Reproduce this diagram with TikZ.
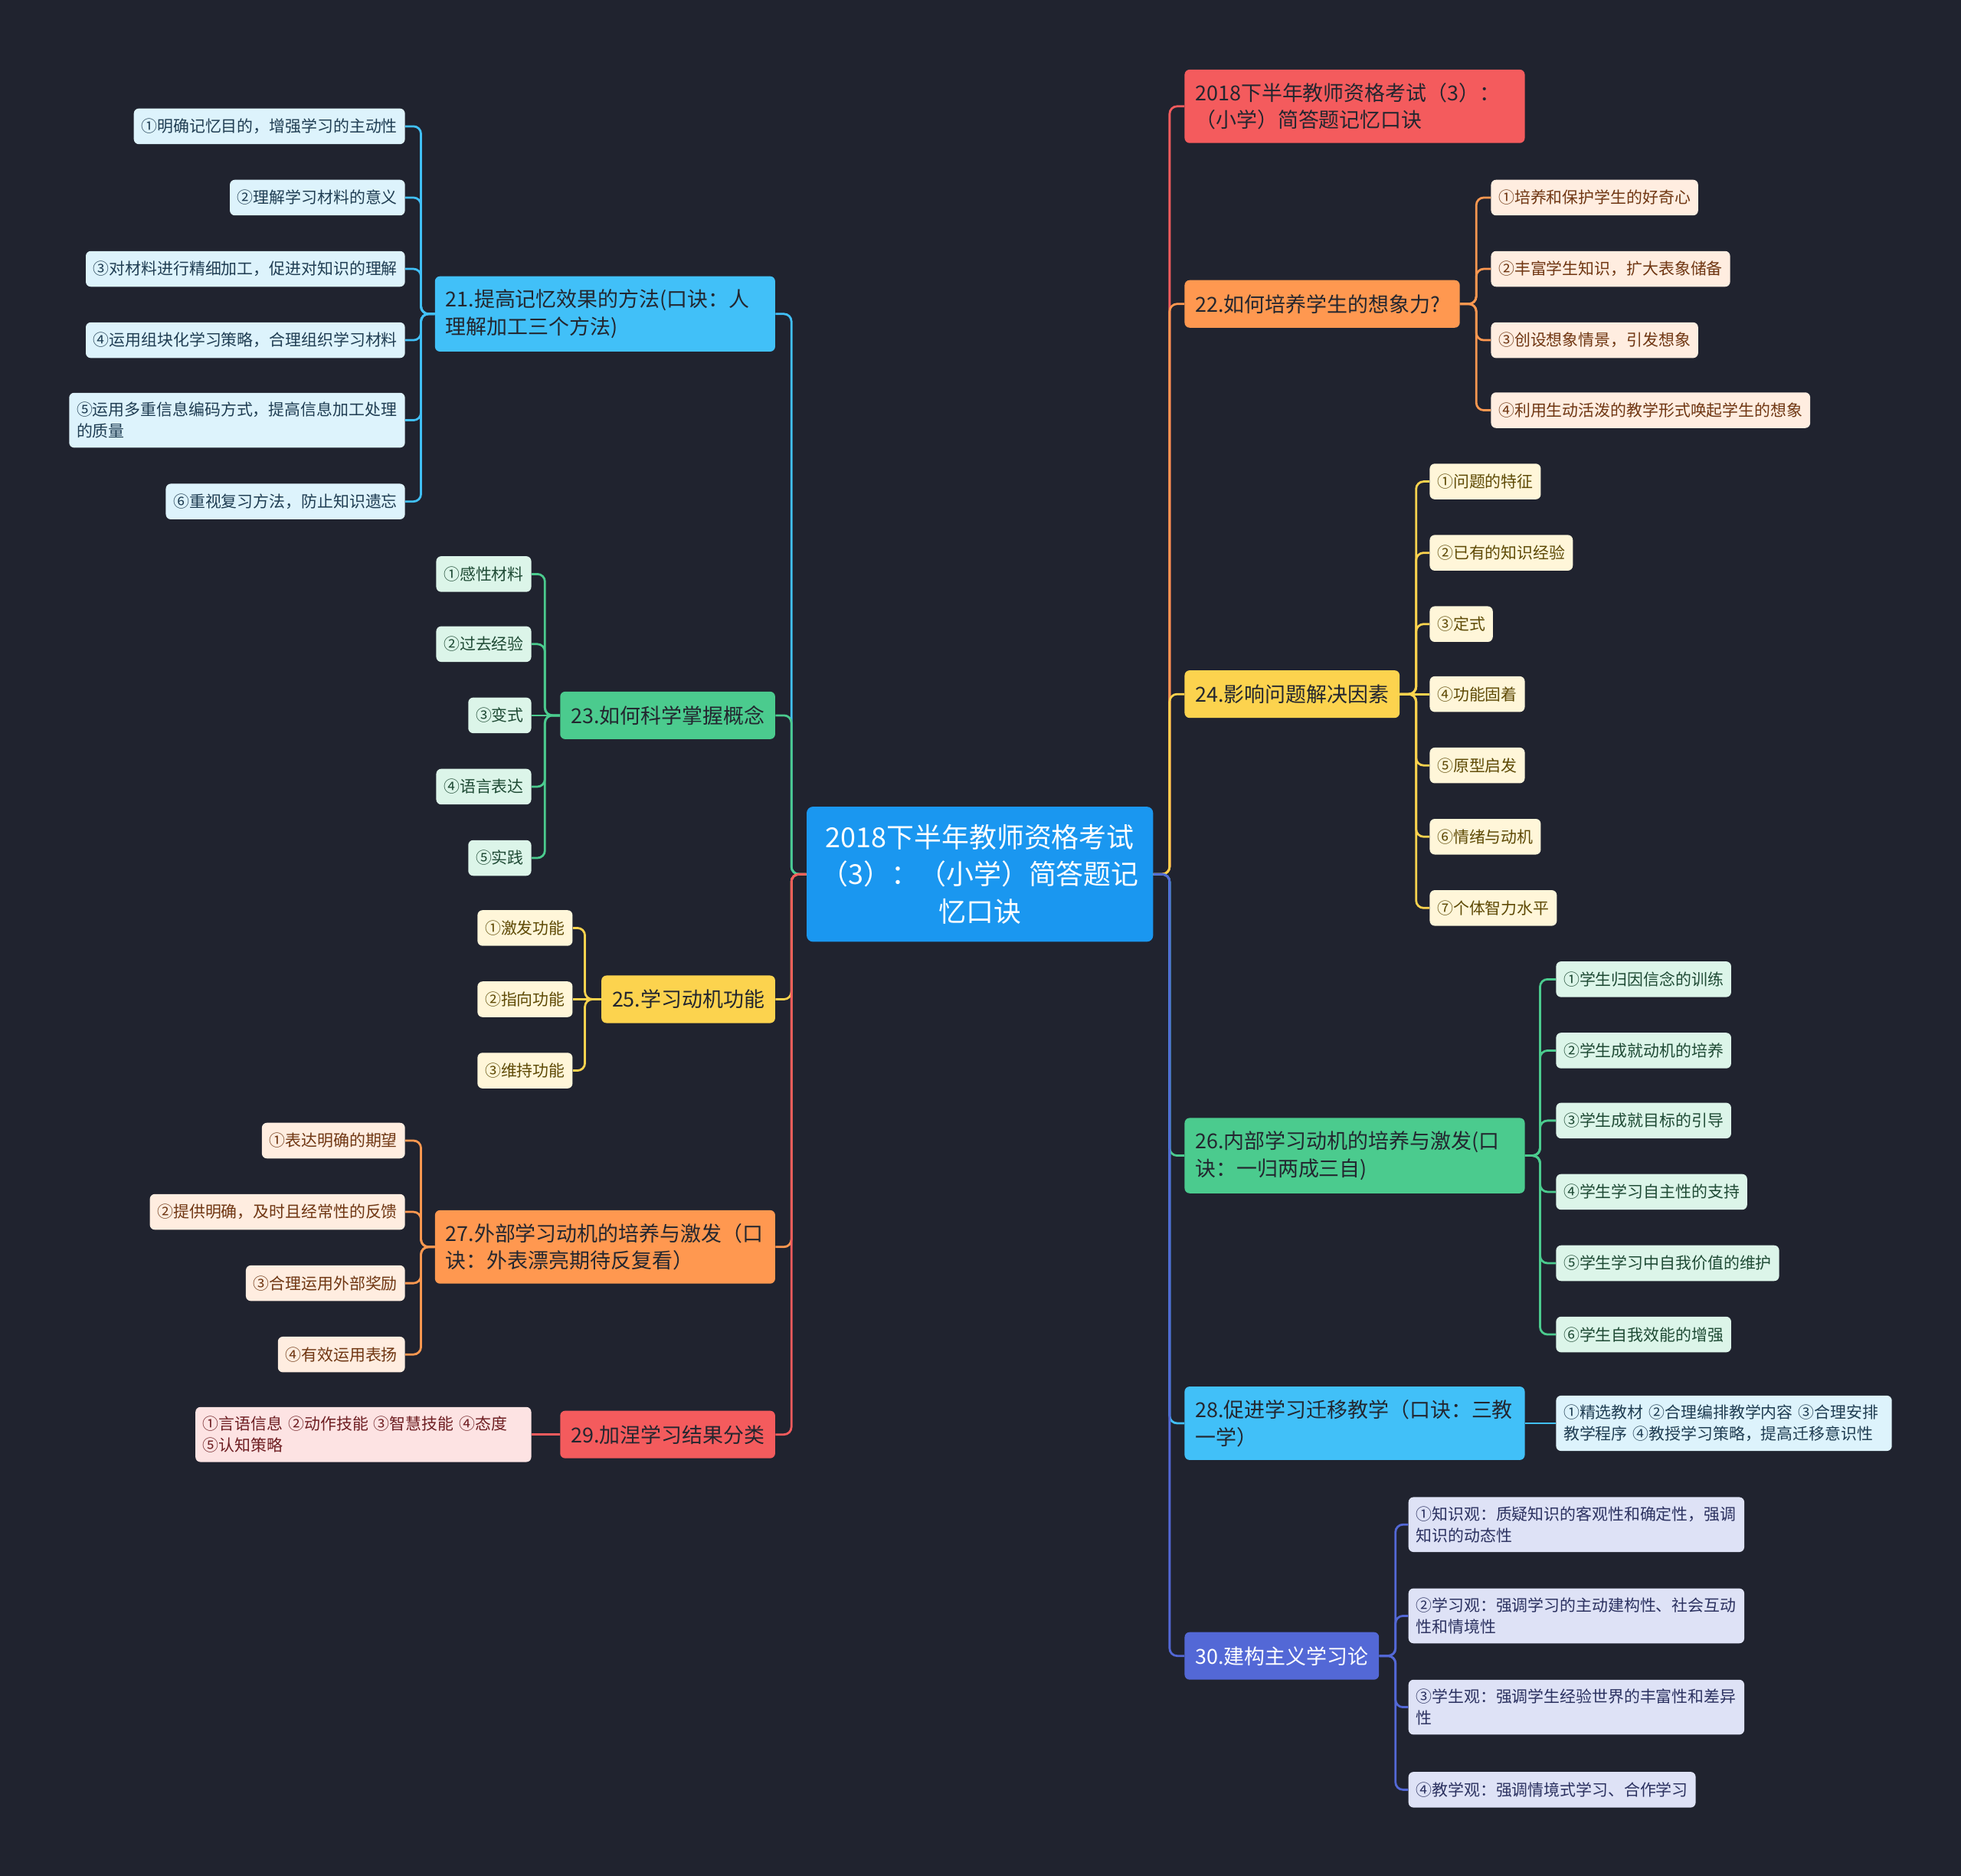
\documentclass[tikz,border=0pt]{standalone}
\usepackage{fontspec}
\setmainfont{Noto Sans CJK SC}
\usepackage{xcolor}
\usepackage{tikz}

\definecolor{bgc}{HTML}{20232F}
\definecolor{cRoot}{HTML}{1A97F0}
\definecolor{cRed}{HTML}{F45B5D}
\definecolor{cOrg}{HTML}{FF9850}
\definecolor{cYel}{HTML}{FCD34E}
\definecolor{cGrn}{HTML}{4BCB8E}
\definecolor{cSky}{HTML}{41C0F8}
\definecolor{cInd}{HTML}{5368D6}
\definecolor{fSky}{HTML}{DDF3FC}
\definecolor{fGrn}{HTML}{DCF5E9}
\definecolor{fYel}{HTML}{FFF6D9}
\definecolor{fOrg}{HTML}{FFEDE0}
\definecolor{fRed}{HTML}{FDE3E3}
\definecolor{fInd}{HTML}{DEE2F6}
\definecolor{tSky}{HTML}{1F3D52}
\definecolor{tGrn}{HTML}{1E4A34}
\definecolor{tYel}{HTML}{5E4A05}
\definecolor{tOrg}{HTML}{6F3612}
\definecolor{tRed}{HTML}{6E1E22}
\definecolor{tInd}{HTML}{2B3160}
\definecolor{tDark}{HTML}{23262F}

\begin{document}
\begin{tikzpicture}[x=1pt, y=-1pt,
  root/.style={rectangle, rounded corners=5pt, fill=cRoot, text=white,
    font=\fontsize{22}{29.5}\selectfont, align=center, text width=257pt,
    inner xsep=10pt, minimum height=108pt},
  br/.style={rectangle, rounded corners=4pt, text=tDark,
    font=\fontsize{16.5}{22}\selectfont, align=left,
    inner xsep=8.5pt, inner ysep=10.5pt, minimum height=38pt},
  brw/.style={br, text width=255pt},
  lf/.style={rectangle, rounded corners=4pt,
    font=\fontsize{12.8}{17}\selectfont, align=left,
    inner xsep=6pt, inner ysep=7.5pt, minimum height=28.5pt},
  lfw/.style={lf, text width=256.5pt},
  lSky/.style={fill=fSky, text=tSky},
  lGrn/.style={fill=fGrn, text=tGrn},
  lYel/.style={fill=fYel, text=tYel},
  lOrg/.style={fill=fOrg, text=tOrg},
  lRed/.style={fill=fRed, text=tRed},
  lInd/.style={fill=fInd, text=tInd},
  ln/.style={line width=1.7pt, rounded corners=6pt}]

  \fill[bgc] (0,0) rectangle (1568,1500);

  \node[root] (root) at (783.5,699)
       {2018下半年教师资格考试\\（3）：（小学）简答题记\\忆口诀};

  % left branches
  \node[brw, fill=cSky, anchor=east] (b21) at (620,251)
       {21.提高记忆效果的方法(口诀：人\\理解加工三个方法)};
  \node[br, fill=cGrn, anchor=east] (b23) at (620,572) {23.如何科学掌握概念};
  \node[br, fill=cYel, anchor=east] (b25) at (620,799) {25.学习动机功能};
  \node[brw, fill=cOrg, anchor=east] (b27) at (620,997)
       {27.外部学习动机的培养与激发（口\\诀：外表漂亮期待反复看）};
  \node[br, fill=cRed, anchor=east] (b29) at (620,1147) {29.加涅学习结果分类};

  % right branches
  \node[brw, fill=cRed, anchor=west] (bT) at (947,85)
       {2018下半年教师资格考试（3）：\\（小学）简答题记忆口诀};
  \node[br, text width=203pt, fill=cOrg, anchor=west] (b22) at (947,243)
       {22.如何培养学生的想象力?};
  \node[br, fill=cYel, anchor=west] (b24) at (947,555) {24.影响问题解决因素};
  \node[brw, fill=cGrn, anchor=west] (b26) at (947,924)
       {26.内部学习动机的培养与激发(口\\诀：一归两成三自)};
  \node[brw, fill=cSky, anchor=west] (b28) at (947,1138)
       {28.促进学习迁移教学（口诀：三教\\一学）};
  \node[br, fill=cInd, text=white, anchor=west] (b30) at (947,1324) {30.建构主义学习论};

  % trunks from the centre
  \foreach \b/\c in {21/cSky,23/cGrn,25/cYel,27/cOrg,29/cRed}
    \draw[ln, color=\c] (root.west) -- ++(-12,0) |- (b\b.east);
  \foreach \b/\c in {T/cRed,22/cOrg,24/cYel,26/cGrn,28/cSky,30/cInd}
    \draw[ln, color=\c] (root.east) -- ++(13,0) |- (b\b.west);

  % 21
  \foreach \n/\y/\s in {1/101/{①明确记忆目的，增强学习的主动性},
      2/158/{②理解学习材料的意义},
      3/215/{③对材料进行精细加工，促进对知识的理解},
      4/272/{④运用组块化学习策略，合理组织学习材料},
      6/401/{⑥重视复习方法，防止知识遗忘}}
    \node[lf, lSky, anchor=east] (l21\n) at (324,\y) {\s};
  \node[lfw, lSky, anchor=east] (l215) at (324,336)
       {⑤运用多重信息编码方式，提高信息加工处理\\的质量};
  \foreach \n in {1,...,6}
    \draw[ln, color=cSky] (b21.west) -- ++(-11,0) |- (l21\n.east);

  % 23
  \foreach \n/\y/\s in {1/459/①感性材料,2/515/②过去经验,3/572/③变式,
      4/629/④语言表达,5/686/⑤实践}
    \node[lf, lGrn, anchor=east] (l23\n) at (425,\y) {\s};
  \foreach \n in {1,2,4,5}
    \draw[ln, color=cGrn] (b23.west) -- ++(-12,0) |- (l23\n.east);
  \draw[ln, color=cGrn] (b23.west) -- (l233.east);

  % 25
  \foreach \n/\y/\s in {1/742/①激发功能,2/799/②指向功能,3/856/③维持功能}
    \node[lf, lYel, anchor=east] (l25\n) at (458,\y) {\s};
  \foreach \n in {1,3}
    \draw[ln, color=cYel] (b25.west) -- ++(-13,0) |- (l25\n.east);
  \draw[ln, color=cYel] (b25.west) -- (l252.east);

  % 27
  \foreach \n/\y/\s in {1/912/①表达明确的期望,2/969/{②提供明确，及时且经常性的反馈},
      3/1026/③合理运用外部奖励,4/1083/④有效运用表扬}
    \node[lf, lOrg, anchor=east] (l27\n) at (324,\y) {\s};
  \foreach \n in {1,...,4}
    \draw[ln, color=cOrg] (b27.west) -- ++(-11,0) |- (l27\n.east);

  % 29
  \node[lfw, lRed, anchor=east] (l291) at (425,1147)
       {①言语信息 ②动作技能 ③智慧技能 ④态度\\⑤认知策略};
  \draw[ln, color=cRed] (b29.west) -- (l291.east);

  % 22
  \foreach \n/\y/\s in {1/158/①培养和保护学生的好奇心,2/215/{②丰富学生知识，扩大表象储备},
      3/272/{③创设想象情景，引发想象},4/328/④利用生动活泼的教学形式唤起学生的想象}
    \node[lf, lOrg, anchor=west] (l22\n) at (1192,\y) {\s};
  \foreach \n in {1,...,4}
    \draw[ln, color=cOrg] (b22.east) -- ++(13,0) |- (l22\n.west);

  % 24
  \foreach \n/\y/\s in {1/385/①问题的特征,2/442/②已有的知识经验,3/499/③定式,
      4/555/④功能固着,5/612/⑤原型启发,6/669/⑥情绪与动机,7/726/⑦个体智力水平}
    \node[lf, lYel, anchor=west] (l24\n) at (1143,\y) {\s};
  \foreach \n in {1,2,3,5,6,7}
    \draw[ln, color=cYel] (b24.east) -- ++(13,0) |- (l24\n.west);
  \draw[ln, color=cYel] (b24.east) -- (l244.west);

  % 26
  \foreach \n/\y/\s in {1/783/①学生归因信念的训练,2/840/②学生成就动机的培养,
      3/896/③学生成就目标的引导,4/953/④学生学习自主性的支持,
      5/1010/⑤学生学习中自我价值的维护,6/1067/⑥学生自我效能的增强}
    \node[lf, lGrn, anchor=west] (l26\n) at (1244,\y) {\s};
  \foreach \n in {1,...,6}
    \draw[ln, color=cGrn] (b26.east) -- ++(12,0) |- (l26\n.west);

  % 28
  \node[lfw, lSky, anchor=west] (l281) at (1244,1138)
       {①精选教材 ②合理编排教学内容 ③合理安排\\教学程序 ④教授学习策略，提高迁移意识性};
  \draw[ln, color=cSky] (b28.east) -- (l281.west);

  % 30
  \node[lfw, lInd, anchor=west] (l301) at (1126,1219)
       {①知识观：质疑知识的客观性和确定性，强调\\知识的动态性};
  \node[lfw, lInd, anchor=west] (l302) at (1126,1292)
       {②学习观：强调学习的主动建构性、社会互动\\性和情境性};
  \node[lfw, lInd, anchor=west] (l303) at (1126,1365)
       {③学生观：强调学生经验世界的丰富性和差异\\性};
  \node[lf, lInd, anchor=west] (l304) at (1126,1431) {④教学观：强调情境式学习、合作学习};
  \foreach \n in {1,...,4}
    \draw[ln, color=cInd] (b30.east) -- ++(13,0) |- (l30\n.west);
\end{tikzpicture}
\end{document}
